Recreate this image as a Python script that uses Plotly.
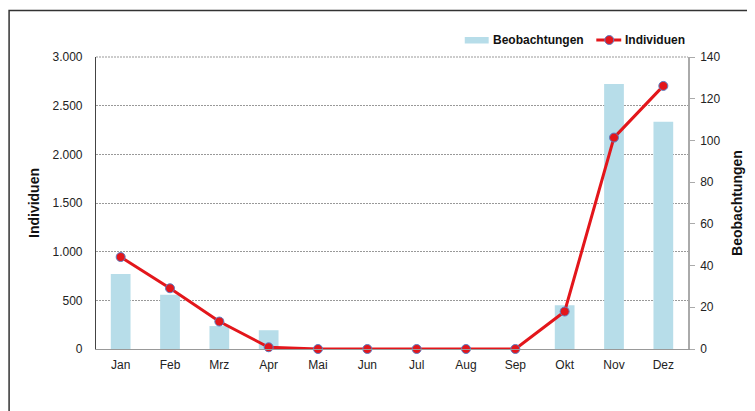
import plotly.graph_objects as go

months = ["Jan", "Feb", "Mrz", "Apr", "Mai", "Jun", "Jul", "Aug", "Sep", "Okt", "Nov", "Dez"]
beobachtungen = [36, 26, 11, 9, 0, 0, 0, 0, 0, 21, 127, 109]
individuen = [945, 624, 282, 18, 0, 0, 0, 0, 0, 385, 2172, 2703]

OFF = 8  # page body margin of the html page
W, H = 755 - OFF, 411 - OFF
L, R, T, B = 96, 690, 57, 349  # plot area in screen pixels

def px(x):
    return (x - L) / (R - L)

def py(y):
    return (B - y) / (B - T)

RED = "#e3161b"
BLUE = "#b7dde9"
MK_EDGE = "#5b7fc4"
FAM = "Liberation Sans, Arial, sans-serif"
GRID = "#999"
GRID_DASH = "2px,1px"

fig = go.Figure()
fig.add_trace(go.Bar(
    x=months, y=beobachtungen, name="Beobachtungen", yaxis="y",
    marker=dict(color=BLUE, line=dict(width=0)), width=0.4,
))
fig.add_trace(go.Scatter(
    x=months, y=individuen, name="Individuen", yaxis="y2", mode="lines+markers",
    line=dict(color=RED, width=3),
    marker=dict(color=RED, size=9, line=dict(color=MK_EDGE, width=1)),
    cliponaxis=False,
))

font = dict(family=FAM, size=12, color="#222")
title_font = dict(family=FAM, size=14, weight="bold", color="#111")

fig.update_layout(
    width=W, height=H,
    margin=dict(l=L - OFF, r=755 - R, t=T - OFF, b=411 - B),
    paper_bgcolor="white", plot_bgcolor="white",
    font=font,
    separators=",.",
    showlegend=False,
    xaxis=dict(range=[-0.5, len(months) - 0.5], showgrid=False, showline=True,
               linecolor="#999", linewidth=1, ticks="",
               tickfont=font, ticklabelstandoff=5, fixedrange=True),
    yaxis=dict(side="right", range=[0, 140], dtick=20, showgrid=False, showline=True,
               linecolor="#aaa", linewidth=1.5, ticks="outside", ticklen=5, tickcolor="#aaa",
               tickfont=font, ticklabelstandoff=3,
               title=dict(text="Beobachtungen", font=title_font, standoff=13),
               zeroline=False),
    yaxis2=dict(overlaying="y", side="left", range=[0, 3000], dtick=500, tickformat=",d",
                separatethousands=True, showgrid=True, gridcolor=GRID, griddash=GRID_DASH, gridwidth=1,
                showline=True, linecolor="#444", linewidth=1.2, ticks="", tickfont=font,
                ticklabelstandoff=10,
                title=dict(text="Individuen", font=title_font, standoff=9),
                zeroline=False),
    shapes=[
        dict(type="rect", xref="paper", yref="paper",
             x0=px(8.8), x1=px(780), y0=py(430), y1=py(10.5),
             line=dict(color="#333", width=1.5), fillcolor="rgba(0,0,0,0)", layer="below"),
        # top gridline at the range end
        dict(type="line", xref="paper", yref="paper", x0=0, x1=1, y0=1, y1=1,
             line=dict(color=GRID, width=1, dash=GRID_DASH), layer="below"),
        # legend: bar swatch
        dict(type="rect", xref="paper", yref="paper",
             x0=px(466), x1=px(490), y0=py(43.5), y1=py(37),
             line=dict(width=0), fillcolor=BLUE),
        # legend: line swatch
        dict(type="line", xref="paper", yref="paper",
             x0=px(598), x1=px(623), y0=py(40), y1=py(40),
             line=dict(color=RED, width=3)),
        dict(type="circle", xref="paper", yref="paper",
             x0=px(606.5), x1=px(615.5), y0=py(44.5), y1=py(35.5),
             line=dict(color=MK_EDGE, width=1), fillcolor=RED),
    ],
    annotations=[
        dict(text="Beobachtungen", xref="paper", yref="paper", x=px(492.5), y=py(40),
             xanchor="left", yanchor="middle", showarrow=False,
             font=dict(family=FAM, size=12, weight="bold", color="#111")),
        dict(text="Individuen", xref="paper", yref="paper", x=px(625), y=py(40),
             xanchor="left", yanchor="middle", showarrow=False,
             font=dict(family=FAM, size=12, weight="bold", color="#111")),
    ],
)

fig.write_html("out.html")
